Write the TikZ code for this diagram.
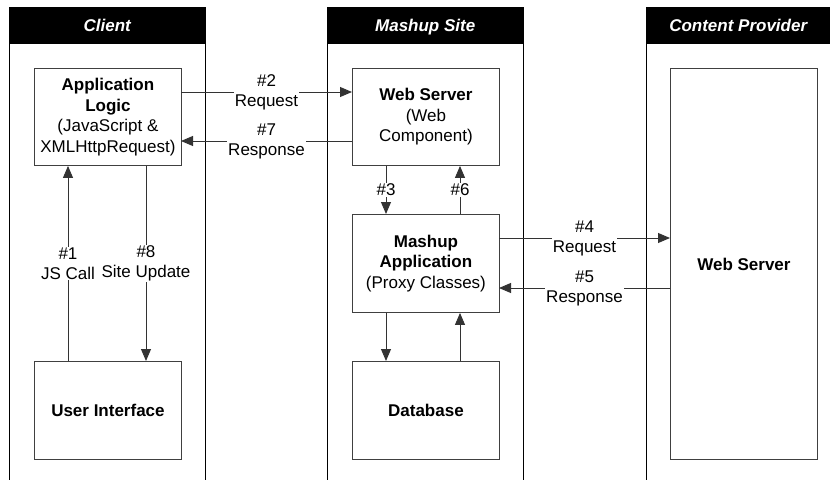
\documentclass[tikz,border=0pt]{standalone}
\usepackage{fontspec}
\setmainfont{Liberation Sans}
\usetikzlibrary{arrows.meta}
\begin{document}
\begin{tikzpicture}[x=1pt,y=-1pt,
  font=\fontsize{17}{20.5}\selectfont,
  lane/.style={line width=0.9pt,draw=black},
  hdr/.style={fill=black,draw=black,text=white,text height=14pt,text depth=2pt,font=\fontsize{17}{20}\selectfont\bfseries\itshape},
  box/.style={draw=black!75,line width=0.9pt,align=center,inner sep=0pt},
  flow/.style={draw=black!80,line width=0.9pt,-{Triangle[length=12pt,width=10pt]}},
  lbl/.style={fill=white,align=center,inner sep=1pt,font=\fontsize{17}{20}\selectfont}]
\useasboundingbox (0,0) rectangle (830,480);
% lanes
\foreach \l/\r/\t/\n in {9/205/Client/lc, 327/523/Mashup Site/lm, 646/830/Content Provider/lp}{
  \node[hdr,minimum width={\r-\l},minimum height=36,inner sep=0pt,anchor=north west] (\n) at (\l,7) {\t};
}
\draw[lane] (9,7) -- (9,480) (205,7) -- (205,480);
\draw[lane] (327,7) -- (327,480) (523,7) -- (523,480);
\draw[lane] (646,7) -- (646,480);
% boxes
\node[box,minimum width=147,minimum height=97,anchor=north west] (al) at (34,68) {\textbf{Application}\\\textbf{Logic}\\(JavaScript \&\\XMLHttpRequest)};
\node[box,minimum width=147,minimum height=98,anchor=north west] (ui) at (34,361) {\textbf{User Interface}};
\node[box,minimum width=147,minimum height=97,anchor=north west] (ws) at (352,68) {\textbf{Web Server}\\(Web\\Component)};
\node[box,minimum width=147,minimum height=98,anchor=north west] (ma) at (352,214) {\textbf{Mashup}\\\textbf{Application}\\(Proxy Classes)};
\node[box,minimum width=147,minimum height=98,anchor=north west] (db) at (352,361) {\textbf{Database}};
\node[box,minimum width=147,minimum height=391,anchor=north west] (cw) at (670,68) {\textbf{Web Server}};
% helper coordinates
\coordinate (alR1) at (181,92); \coordinate (wsL1) at (352,92);
\coordinate (alR2) at (181,141); \coordinate (wsL2) at (352,141);
\coordinate (maR1) at (499,238); \coordinate (cwL1) at (670,238);
\coordinate (maR2) at (499,288); \coordinate (cwL2) at (670,288);
% arrows
\draw[flow] (alR1) -- node[lbl]{\#2\\Request} (wsL1);
\draw[flow] (wsL2) -- node[lbl]{\#7\\Response} (alR2);
\draw[flow] (maR1) -- node[lbl]{\#4\\Request} (cwL1);
\draw[flow] (cwL2) -- node[lbl]{\#5\\Response} (maR2);
\draw[flow] (ws.south -| 386,0) -- node[lbl]{\#3} (ma.north -| 386,0);
\draw[flow] (ma.north -| 460,0) -- node[lbl]{\#6} (ws.south -| 460,0);
\draw[flow] (ma.south -| 386,0) -- (db.north -| 386,0);
\draw[flow] (db.north -| 460,0) -- (ma.south -| 460,0);
\draw[flow] (ui.north -| 68,0) -- node[lbl]{\#1\\JS Call} (al.south -| 68,0);
\draw[flow] (al.south -| 146,0) -- node[lbl]{\#8\\Site Update} (ui.north -| 146,0);
\end{tikzpicture}
\end{document}
